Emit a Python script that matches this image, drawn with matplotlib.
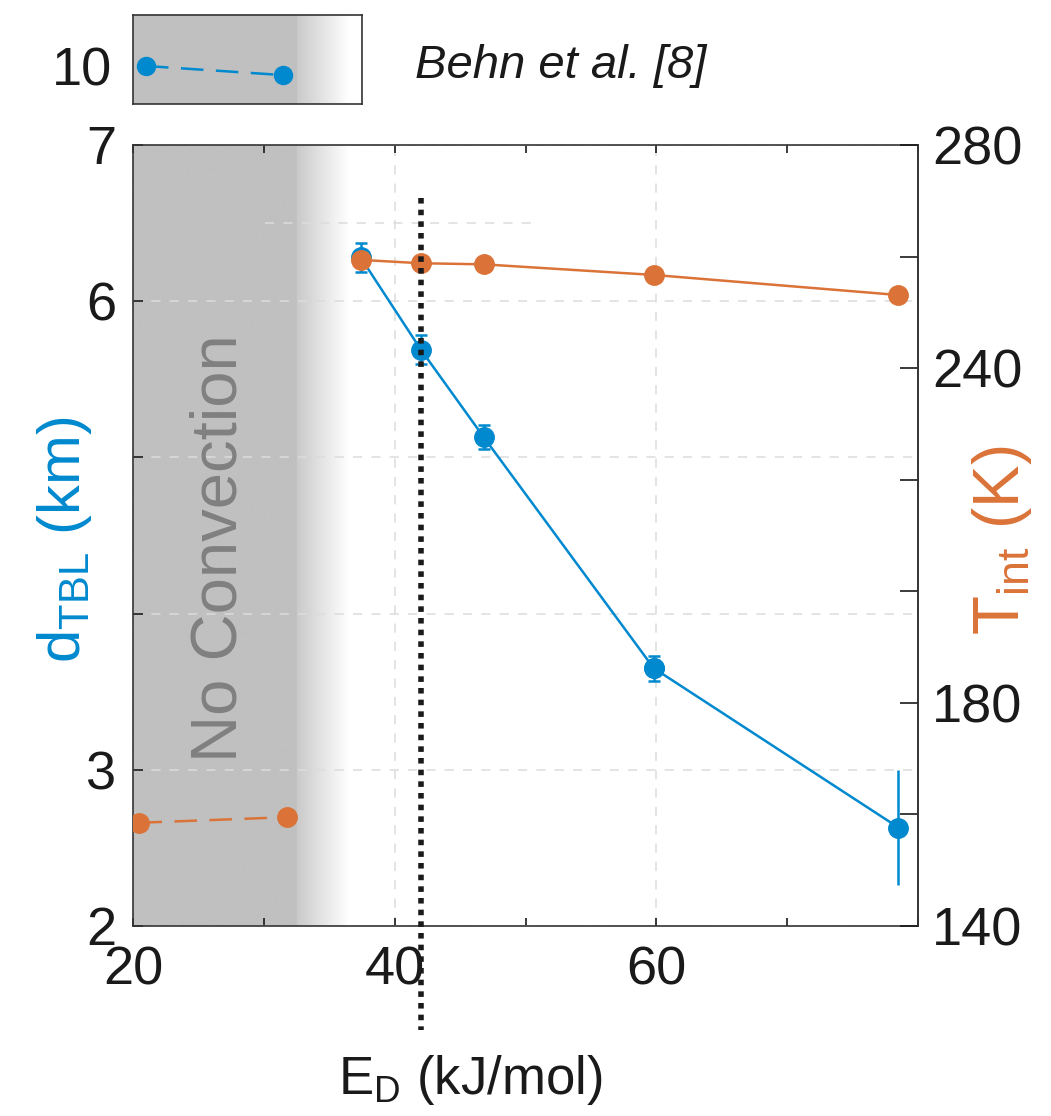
import numpy as np
import matplotlib
matplotlib.use("Agg")
import matplotlib.pyplot as plt

plt.rcParams['font.family'] = ['Liberation Sans', 'DejaVu Sans']
plt.rcParams['mathtext.fontset'] = 'custom'
plt.rcParams['mathtext.rm'] = 'Liberation Sans'

BLUE = '#0089cf'
ORANGE = '#db7338'

# model results
e_d = [37.4, 42.0, 46.8, 59.8, 78.5]
d_tbl = [6.28, 5.69, 5.13, 3.65, 2.63]
d_tbl_err = [0.093, 0.093, 0.075, 0.08, 0.37]
t_int = [259.4, 258.8, 258.6, 256.7, 253.1]

# no-convection runs
e_d_nc = [20.5, 31.8]
t_int_nc = [158.5, 159.5]

# Behn et al. [8]
e_d_behn = [21.0, 31.5]
d_behn = [10.0, 9.88]

e_d_marker = 42.0
gray_solid_end = 32.5
gray_fade_end = 36.5

xticks = [20, 40, 60, 80]
xticklabels = ['20', '40', '60', '']
xticks_minor = [30, 50, 70]
yticks_left = [2, 3, 4, 5, 6, 7]
yticklabels_left = ['2', '3', '', '', '6', '7']
yticks_right = [140, 160, 180, 200, 220, 240, 260, 280]
yticklabels_right = ['140', '', '180', '', '', '240', '', '280']


def gray_band(ax, x0, x1, y0, y1):
    xs = np.linspace(x0, x1, 600)
    shade = np.where(xs < gray_solid_end, 0.75,
                     0.79 + 0.21 * (xs - gray_solid_end) / (gray_fade_end - gray_solid_end))
    shade = np.clip(shade, 0, 1)
    ax.imshow(shade[np.newaxis, :], cmap='gray', vmin=0, vmax=1, aspect='auto',
              extent=[x0, x1, y0, y1], interpolation='bilinear', zorder=0.1)


fig = plt.figure(figsize=(10.51, 11.16), dpi=100)
ax = fig.add_axes([0.1265, 0.1703, 0.747, 0.6998])

gray_band(ax, 20, 40, 2, 7)
ax.set_xlim(20, 80)
ax.set_ylim(2, 7)

ax.set_xticks(xticks)
ax.set_xticklabels(xticklabels)
ax.set_xticks(xticks_minor, minor=True)
ax.set_yticks(yticks_left)
ax.set_yticklabels(yticklabels_left)
ax.tick_params(axis='both', which='both', direction='in', labelsize=39, colors='#1a1a1a')
ax.tick_params(axis='x', which='both', top=True, length=6, width=1.2, pad=14)
ax.tick_params(axis='y', right=False, length=7, width=1.2, pad=12)
ax.grid(True, which='major', color='#dcdcdc', linestyle=(0, (6, 6)), linewidth=1.1)
ax.set_axisbelow(True)
for s in ax.spines.values():
    s.set_color('#333333')
    s.set_linewidth(1.2)

# stray grid segment seen in the original
ax.plot([30.1, 50.5], [6.5, 6.5], color='#dcdcdc', linestyle=(0, (6, 6)), linewidth=1.1, zorder=0.5)

ax.text(26.65, 4.42, 'No Convection', rotation=90, ha='center', va='center',
        fontsize=47, color='#808080', zorder=1)

ax.errorbar(e_d[:-1], d_tbl[:-1], yerr=d_tbl_err[:-1], color=BLUE, lw=1.8,
            marker='o', markersize=14, capsize=4.5, capthick=1.8, elinewidth=1.8, zorder=3)
ax.errorbar(e_d[-2:], d_tbl[-2:], yerr=[0, d_tbl_err[-1]], color=BLUE, lw=1.8,
            marker='o', markersize=14, capsize=0, elinewidth=1.8, zorder=3)

ax.set_ylabel(r'$\mathregular{d_{TBL}}$ (km)', fontsize=43, color=BLUE, va='center')
ax.yaxis.set_label_coords(-0.087, 0.494)
ax.set_xlabel(r'$\mathregular{E_D}$ (kJ/mol)', fontsize=38, color='#1a1a1a', va='center')
ax.xaxis.set_label_coords(0.43, -0.197)

ax2 = ax.twinx()
ax2.set_ylim(140, 280)
ax2.set_yticks(yticks_right)
ax2.set_yticklabels(yticklabels_right)
ax2.tick_params(axis='y', direction='in', length=13, width=1.2, pad=10, labelsize=39, colors='#1a1a1a')
for s in ax2.spines.values():
    s.set_visible(False)
ax2.spines['right'].set_visible(True)
ax2.spines['right'].set_color('#333333')
ax2.spines['right'].set_linewidth(1.2)

ax2.plot(e_d, t_int, color=ORANGE, lw=1.8, marker='o', markersize=14, zorder=3)
ax2.plot(e_d_nc, t_int_nc, color=ORANGE, lw=1.8, marker='o', markersize=14,
         dashes=(9, 5), zorder=3)
ax2.set_ylabel(r'$\mathregular{T_{int}}$ (K)', fontsize=46, color=ORANGE, va='center', rotation=90)
ax2.yaxis.set_label_coords(1.107, 0.494)

# dotted marker line, runs past the bottom of the axes
ax2.plot([e_d_marker, e_d_marker], [270.5, 121.4], color='#1a1a1a', lw=4.0,
         dashes=(1.0, 1.1), dash_capstyle='butt', clip_on=False, zorder=5)

# Behn et al. inset
axb = fig.add_axes([0.1265, 0.9068, 0.2179, 0.0797])
gray_band(axb, 20, 37.5, 9.5, 10.67)
axb.set_xlim(20, 37.5)
axb.set_ylim(9.5, 10.67)
axb.set_xticks([])
axb.set_yticks([10])
axb.tick_params(axis='y', length=0, pad=15, labelsize=39, colors='#1a1a1a')
for s in axb.spines.values():
    s.set_color('#333333')
    s.set_linewidth(1.2)
axb.plot(e_d_behn, d_behn, color=BLUE, lw=1.8, marker='o', markersize=13, dashes=(9, 5))
fig.text(0.395, 0.9409, 'Behn et al. [8]', fontsize=34, style='italic', color='#1a1a1a',
         ha='left', va='center')

fig.savefig('out.png', dpi=100)
